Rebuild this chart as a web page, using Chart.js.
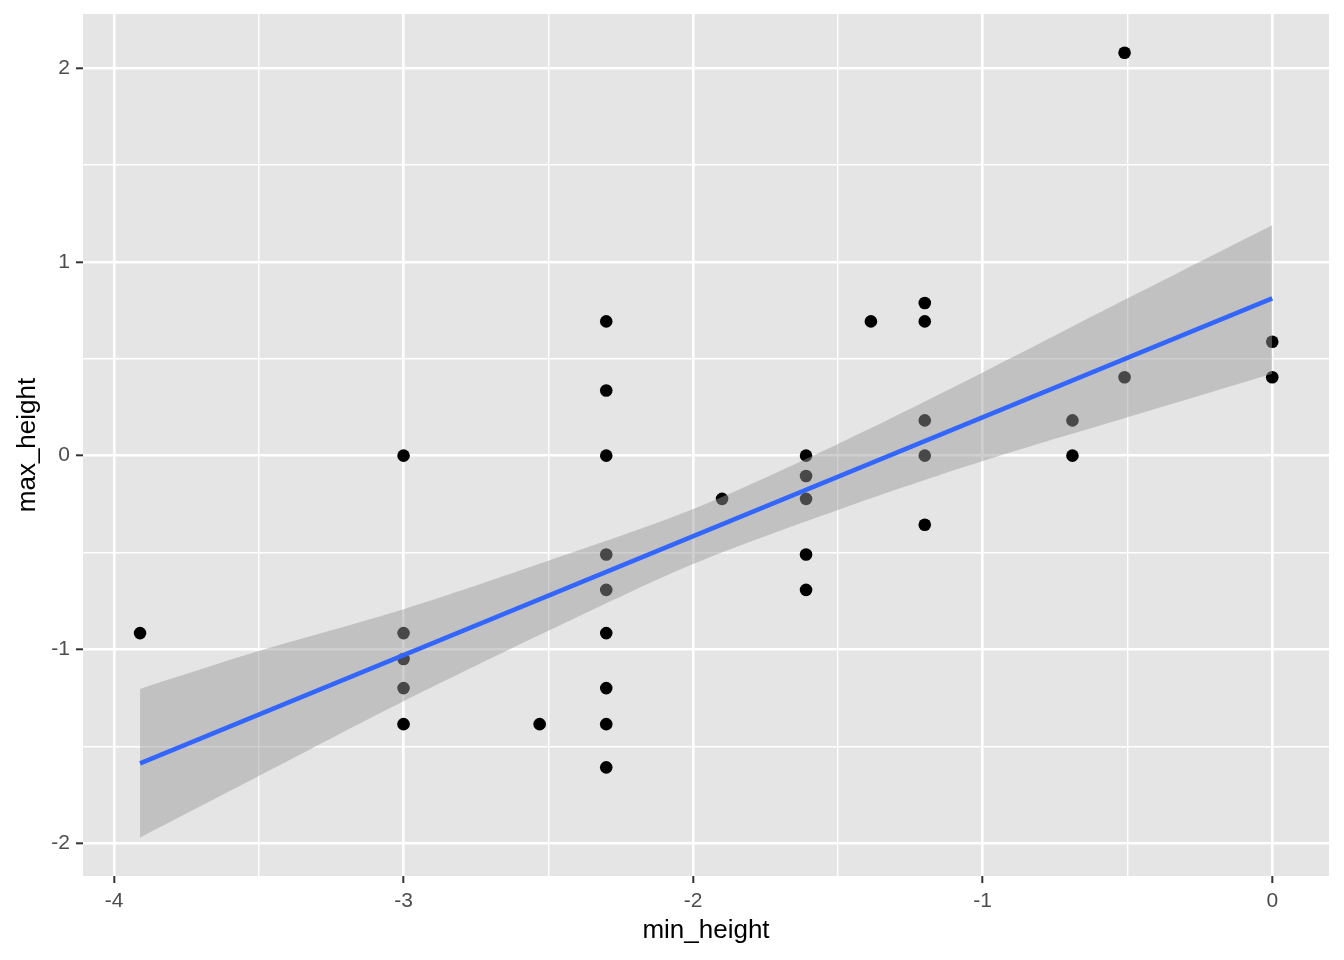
<!DOCTYPE html>
<html>
<head>
<meta charset="utf-8">
<script src="https://cdn.jsdelivr.net/npm/chart.js@4"></script>
<style>
  body { margin: 0; background: #fff; }
  canvas { display: block; }
</style>
</head>
<body>
<canvas id="graph" width="1344" height="960"></canvas>
<script>
const minHeight = [-3.91, -3.0, -3.0, -3.0, -3.0, -3.0, -2.53,
  -2.3, -2.3, -2.3, -2.3, -2.3, -2.3, -2.3, -2.3, -2.3,
  -1.9, -1.61, -1.61, -1.61, -1.61, -1.61, -1.386,
  -1.2, -1.2, -1.2, -1.2, -1.2, -0.69, -0.69, -0.51, -0.51, 0, 0];
const maxHeight = [-0.916, 0, -0.916, -1.05, -1.2, -1.386, -1.386,
  0.693, 0.336, 0, -0.51, -0.693, -0.916, -1.2, -1.386, -1.609,
  -0.223, 0, -0.105, -0.223, -0.51, -0.693, 0.693,
  0.788, 0.693, 0.182, 0, -0.357, 0.182, 0, 2.08, 0.405, 0.588, 0.405];

// fitted line ends
const fitX = [-3.91, 0];
const fitY = [-1.589, 0.812];

// confidence band read at a few x positions
const bandX = [-3.91, -3.5, -3.0, -2.5, -2.0, -1.5, -1.0, -0.5, 0];
const bandUpper = [-1.204, -1.009, -0.793, -0.543, -0.276, 0.06, 0.429, 0.812, 1.19];
const bandLower = [-1.971, -1.654, -1.268, -0.904, -0.559, -0.28, -0.028, 0.198, 0.423];

const xTickLabels = [-4, -3, -2, -1, 0];
const yTickLabels = [-2, -1, 0, 1, 2];

const toPts = (xs, ys) => xs.map((x, i) => ({ x: x, y: ys[i] }));

const panelBg = {
  id: 'panelBg',
  beforeDraw(chart) {
    const a = chart.chartArea;
    const c = chart.ctx;
    c.save();
    c.fillStyle = '#E5E5E5';
    c.fillRect(a.left, a.top, a.right - a.left, a.bottom - a.top);
    c.restore();
  }
};

const isMajor = (v, list) => list.some(t => Math.abs(t - v) < 1e-9);

function axis(majors, min, max, title, titlePad, fitFn) {
  return {
    type: 'linear',
    min: min,
    max: max,
    border: { display: false },
    grid: {
      color: '#FFFFFF',
      lineWidth: c => isMajor(c.tick.value, majors) ? 2.6 : 1.4,
      tickColor: c => isMajor(c.tick.value, majors) ? '#333333' : 'rgba(0,0,0,0)',
      tickWidth: 2,
      tickLength: 7,
      drawTicks: true
    },
    ticks: {
      stepSize: 0.5,
      includeBounds: false,
      autoSkip: false,
      maxRotation: 0,
      color: '#4D4D4D',
      font: { family: '"Liberation Sans", Arial, Helvetica, sans-serif', size: 21 },
      padding: 6,
      callback: v => isMajor(v, majors) ? String(v) : ''
    },
    title: {
      display: true,
      text: title,
      color: '#000000',
      font: { family: '"Liberation Sans", Arial, Helvetica, sans-serif', size: 26 },
      padding: titlePad
    },
    afterFit: fitFn
  };
}

const ctx = document.getElementById('graph').getContext('2d');

const chart = new Chart(ctx, {
  type: 'scatter',
  data: {
    datasets: [
      {
        type: 'line',
        label: 'fit',
        data: toPts(fitX, fitY),
        borderColor: '#3366FF',
        borderWidth: 4.5,
        pointRadius: 0,
        fill: false,
        order: 0
      },
      {
        type: 'line',
        label: 'upper',
        data: toPts(bandX, bandUpper),
        borderWidth: 0,
        borderColor: 'rgba(0,0,0,0)',
        backgroundColor: 'rgba(153,153,153,0.47)',
        pointRadius: 0,
        tension: 0.3,
        fill: '+1',
        order: 1
      },
      {
        type: 'line',
        label: 'lower',
        data: toPts(bandX, bandLower),
        borderWidth: 0,
        borderColor: 'rgba(0,0,0,0)',
        pointRadius: 0,
        tension: 0.3,
        fill: false,
        order: 1
      },
      {
        label: 'points',
        data: toPts(minHeight, maxHeight),
        backgroundColor: '#000000',
        borderWidth: 0,
        pointRadius: 6.3,
        order: 2
      }
    ]
  },
  options: {
    responsive: false,
    animation: false,
    devicePixelRatio: 1,
    layout: { padding: { top: 14, right: 15, left: 0, bottom: 0 } },
    plugins: {
      legend: { display: false },
      tooltip: { enabled: false }
    },
    scales: {
      x: axis(xTickLabels, -4.107, 0.196, 'min_height', { top: 0, bottom: 14 }, s => {
        s.height = 84; s.paddingLeft = 0; s.paddingRight = 0;
      }),
      y: axis(yTickLabels, -2.17, 2.28, 'max_height', { top: 12, bottom: 0 }, s => {
        s.width = 83; s.paddingTop = 0; s.paddingBottom = 0;
      })
    }
  },
  plugins: [panelBg]
});
</script>
</body>
</html>
